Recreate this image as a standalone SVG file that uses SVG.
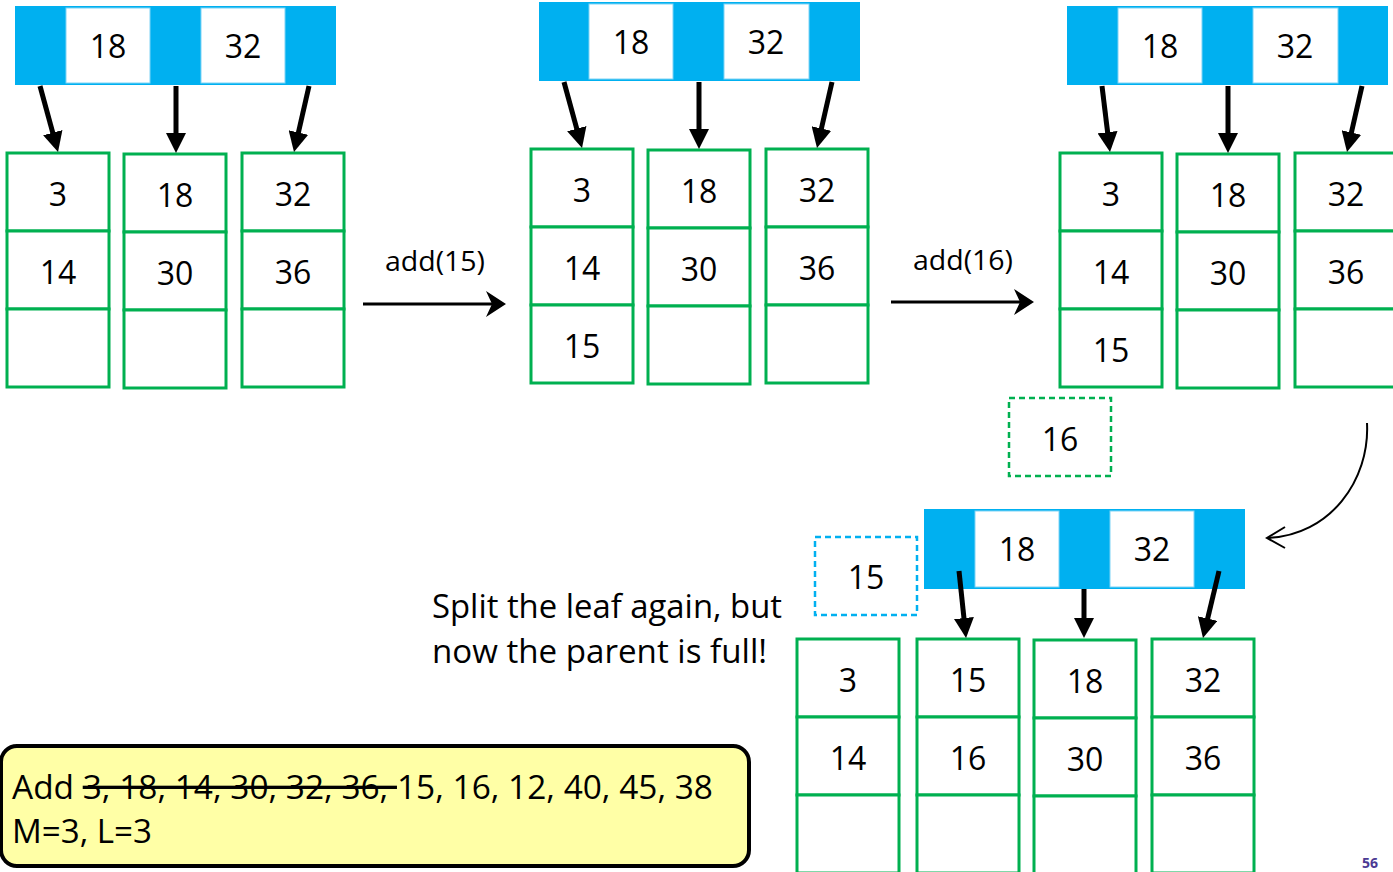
<svg xmlns="http://www.w3.org/2000/svg" width="1393" height="872" viewBox="0 0 1393 872">
  <style>
    .inner { fill: #00b0f0; }
    .key { fill: #ffffff; stroke: #7fd3f5; stroke-width: 1; }
    .cell { fill: #ffffff; stroke: #00b050; stroke-width: 3; }
    .num { font-family: "Open Sans", "Liberation Sans", sans-serif; font-size: 32px; fill: #000; text-anchor: middle; }
    .lbl { font-family: "Open Sans", "Liberation Sans", sans-serif; fill: #000; }
    .ptr { stroke: #000; stroke-width: 5; fill: none; marker-end: url(#head); }
    .step { stroke: #000; stroke-width: 3; fill: none; marker-end: url(#stealth); }
  </style>
  <defs>
    <marker id="head" viewBox="0 0 10 10" refX="5" refY="5" markerWidth="4" markerHeight="4" orient="auto" markerUnits="strokeWidth">
      <path d="M0,0 L10,5 L0,10 z" fill="#000"/>
    </marker>
    <marker id="stealth" viewBox="0 0 20 26" refX="6" refY="13" markerWidth="20" markerHeight="26" orient="auto" markerUnits="userSpaceOnUse">
      <path d="M0,0 L20,13 L0,26 L6,13 z" fill="#000"/>
    </marker>
    <g id="leaf3">
      <rect class="cell" x="0" y="0" width="102" height="78"/>
      <rect class="cell" x="0" y="78" width="102" height="78"/>
      <rect class="cell" x="0" y="156" width="102" height="78"/>
    </g>
  </defs>

  <!-- first tree -->
  <g id="tree1-root">
    <rect class="inner" x="15" y="6" width="321" height="79"/>
    <rect class="key" x="66" y="8" width="84" height="75"/>
    <rect class="key" x="201" y="8" width="84" height="75"/>
    <text class="num" x="108" y="58">18</text>
    <text class="num" x="243" y="58">32</text>
  </g>
  <g id="tree1-leaf1">
    <use href="#leaf3" x="7" y="153"/>
    <text class="num" x="58" y="206">3</text>
    <text class="num" x="58" y="284">14</text>
  </g>
  <g id="tree1-leaf2">
    <use href="#leaf3" x="124" y="154"/>
    <text class="num" x="175" y="207">18</text>
    <text class="num" x="175" y="285">30</text>
  </g>
  <g id="tree1-leaf3">
    <use href="#leaf3" x="242" y="153"/>
    <text class="num" x="293" y="206">32</text>
    <text class="num" x="293" y="284">36</text>
  </g>

  <!-- second tree -->
  <g id="tree2-root">
    <rect class="inner" x="539" y="2" width="321" height="79"/>
    <rect class="key" x="589" y="4" width="84" height="75"/>
    <rect class="key" x="724" y="4" width="85" height="75"/>
    <text class="num" x="631" y="54">18</text>
    <text class="num" x="766" y="54">32</text>
  </g>
  <g id="tree2-leaf1">
    <use href="#leaf3" x="531" y="149"/>
    <text class="num" x="582" y="202">3</text>
    <text class="num" x="582" y="280">14</text>
    <text class="num" x="582" y="358">15</text>
  </g>
  <g id="tree2-leaf2">
    <use href="#leaf3" x="648" y="150"/>
    <text class="num" x="699" y="203">18</text>
    <text class="num" x="699" y="281">30</text>
  </g>
  <g id="tree2-leaf3">
    <use href="#leaf3" x="766" y="149"/>
    <text class="num" x="817" y="202">32</text>
    <text class="num" x="817" y="280">36</text>
  </g>

  <!-- third tree -->
  <g id="tree3-root">
    <rect class="inner" x="1067" y="6" width="321" height="79"/>
    <rect class="key" x="1118" y="8" width="84" height="75"/>
    <rect class="key" x="1253" y="8" width="85" height="75"/>
    <text class="num" x="1160" y="58">18</text>
    <text class="num" x="1295" y="58">32</text>
  </g>
  <g id="tree3-leaf1">
    <use href="#leaf3" x="1060" y="153"/>
    <text class="num" x="1111" y="206">3</text>
    <text class="num" x="1111" y="284">14</text>
    <text class="num" x="1111" y="362">15</text>
  </g>
  <g id="tree3-leaf2">
    <use href="#leaf3" x="1177" y="154"/>
    <text class="num" x="1228" y="207">18</text>
    <text class="num" x="1228" y="285">30</text>
  </g>
  <g id="tree3-leaf3">
    <use href="#leaf3" x="1295" y="153"/>
    <text class="num" x="1346" y="206">32</text>
    <text class="num" x="1346" y="284">36</text>
  </g>
  <g id="overflow-16">
    <rect x="1009" y="398" width="102" height="78" fill="none" stroke="#00b050" stroke-width="2.5" stroke-dasharray="6 4"/>
    <text class="num" x="1060" y="451">16</text>
  </g>

  <!-- split result -->
  <g id="pushed-15">
    <rect x="815" y="537" width="102" height="78" fill="none" stroke="#00b0f0" stroke-width="2.5" stroke-dasharray="6 4"/>
    <text class="num" x="866" y="589">15</text>
  </g>
  <g id="tree4-root">
    <rect class="inner" x="924" y="509" width="321" height="80"/>
    <rect class="key" x="975" y="511" width="84" height="76"/>
    <rect class="key" x="1110" y="511" width="84" height="76"/>
    <text class="num" x="1017" y="561">18</text>
    <text class="num" x="1152" y="561">32</text>
  </g>
  <g id="tree4-leaf1">
    <use href="#leaf3" x="797" y="639"/>
    <text class="num" x="848" y="692">3</text>
    <text class="num" x="848" y="770">14</text>
  </g>
  <g id="tree4-leaf2">
    <use href="#leaf3" x="917" y="639"/>
    <text class="num" x="968" y="692">15</text>
    <text class="num" x="968" y="770">16</text>
  </g>
  <g id="tree4-leaf3">
    <use href="#leaf3" x="1034" y="640"/>
    <text class="num" x="1085" y="693">18</text>
    <text class="num" x="1085" y="771">30</text>
  </g>
  <g id="tree4-leaf4">
    <use href="#leaf3" x="1152" y="639"/>
    <text class="num" x="1203" y="692">32</text>
    <text class="num" x="1203" y="770">36</text>
  </g>

  <!-- connectors -->
  <g id="connectors">
    <line class="ptr" x1="40" y1="86" x2="55.4" y2="142.3"/>
    <line class="ptr" x1="176" y1="86" x2="176" y2="143"/>
    <line class="ptr" x1="309" y1="86" x2="296.2" y2="142.2"/>

    <line class="ptr" x1="564" y1="82" x2="579.4" y2="138.3"/>
    <line class="ptr" x1="699" y1="82" x2="699" y2="139"/>
    <line class="ptr" x1="832" y1="82" x2="819.2" y2="138.2"/>

    <line class="ptr" x1="1102" y1="86" x2="1108.8" y2="142.1"/>
    <line class="ptr" x1="1228" y1="86" x2="1228" y2="143"/>
    <line class="ptr" x1="1362" y1="86" x2="1349.2" y2="142.2"/>

    <line class="ptr" x1="959" y1="571" x2="965" y2="628"/>
    <line class="ptr" x1="1084" y1="589" x2="1084" y2="628"/>
    <line class="ptr" x1="1219" y1="571" x2="1205.3" y2="628.3"/>

    <line class="step" x1="363" y1="304" x2="492" y2="304"/>
    <line class="step" x1="891" y1="302" x2="1020" y2="302"/>

    <path d="M1367,423 C1370,480 1330,536 1267,538" fill="none" stroke="#000" stroke-width="2"/>
    <polyline points="1285,527 1267,538 1285,548" fill="none" stroke="#000" stroke-width="2"/>
  </g>

  <!-- labels -->
  <text class="lbl" x="385" y="271" font-size="27" textLength="100" lengthAdjust="spacingAndGlyphs">add(15)</text>
  <text class="lbl" x="913" y="270" font-size="27" textLength="100" lengthAdjust="spacingAndGlyphs">add(16)</text>
  <text class="lbl" x="432" y="618" font-size="32" textLength="350" lengthAdjust="spacingAndGlyphs">Split the leaf again, but</text>
  <text class="lbl" x="432" y="663" font-size="32" textLength="335" lengthAdjust="spacingAndGlyphs">now the parent is full!</text>

  <g id="insert-sequence">
    <rect x="1" y="746" width="748" height="120" rx="16" ry="16" fill="#ffffa6" stroke="#000" stroke-width="4"/>
    <text class="lbl" x="12" y="799" font-size="33" textLength="701" lengthAdjust="spacingAndGlyphs">Add <tspan text-decoration="line-through">3, 18, 14, 30, 32, 36, </tspan>15, 16, 12, 40, 45, 38</text>
    <text class="lbl" x="12" y="843" font-size="33" textLength="140" lengthAdjust="spacingAndGlyphs">M=3, L=3</text>
  </g>

  <text x="1370" y="868" font-family="'Open Sans', 'Liberation Sans', sans-serif" font-size="14" font-weight="bold" fill="#4b3a93" text-anchor="middle">56</text>
</svg>
